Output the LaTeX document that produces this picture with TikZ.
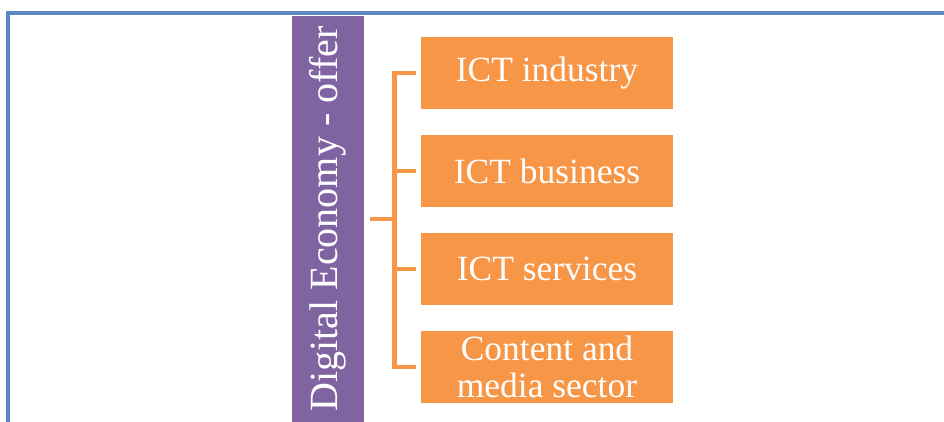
\documentclass[tikz,border=0pt]{standalone}
\usepackage{fontspec}
\setmainfont{Liberation Serif}
\usetikzlibrary{calc}
\definecolor{frame}{HTML}{5A88C6}
\definecolor{lilac}{HTML}{8064A2}
\definecolor{amber}{HTML}{F79646}
\tikzset{
  frameline/.style={draw=frame, line width=2.6pt},
  offerbar/.style={fill=lilac, text=white, rotate=90, inner sep=0pt,
    minimum width=304.5pt, minimum height=54.2pt,
    font=\fontsize{30}{32}\selectfont},
  sector/.style={fill=amber, text=white, inner sep=0pt, align=center,
    minimum width=189pt, minimum height=54.5pt,
    font=\fontsize{26.6}{27.8}\selectfont},
  link/.style={draw=amber, line width=3.4pt}
}

\begin{document}
\begin{tikzpicture}[x=0.75pt, y=-0.75pt]
  \clip (0,0) rectangle (944,421);

  % outer frame (only top and left edge are visible)
  \draw[frameline] (8,430) -- (8,13) -- (950,13);

  % vertical title bar
  \node[offerbar] (dgt) at (328,219) {Digital Economy - offer};

  % the four sectors
  \foreach \i/\y/\txt in {1/72.9/ICT industry, 2/171/ICT business,
                          3/269/ICT services, 4/367/{Content and\\media sector}}
    \node[sector] (s\i) at (547,\y) {\txt};

  % bracket
  \coordinate (root) at ($(dgt.south)+(6,0)$);
  \coordinate (top) at ($(s1.west)+(-5,0)$);
  \coordinate (bot) at ($(s4.west)+(-5,0)$);
  \draw[link] (top) -| ($(bot)+(-21,0)$) -- (bot);
  \draw[link] ($(s2.west)+(-5,0)$) -- ++(-21,0);
  \draw[link] ($(s3.west)+(-5,0)$) -- ++(-21,0);
  \draw[link] (root) -- ++(25,0);
\end{tikzpicture}
\end{document}
